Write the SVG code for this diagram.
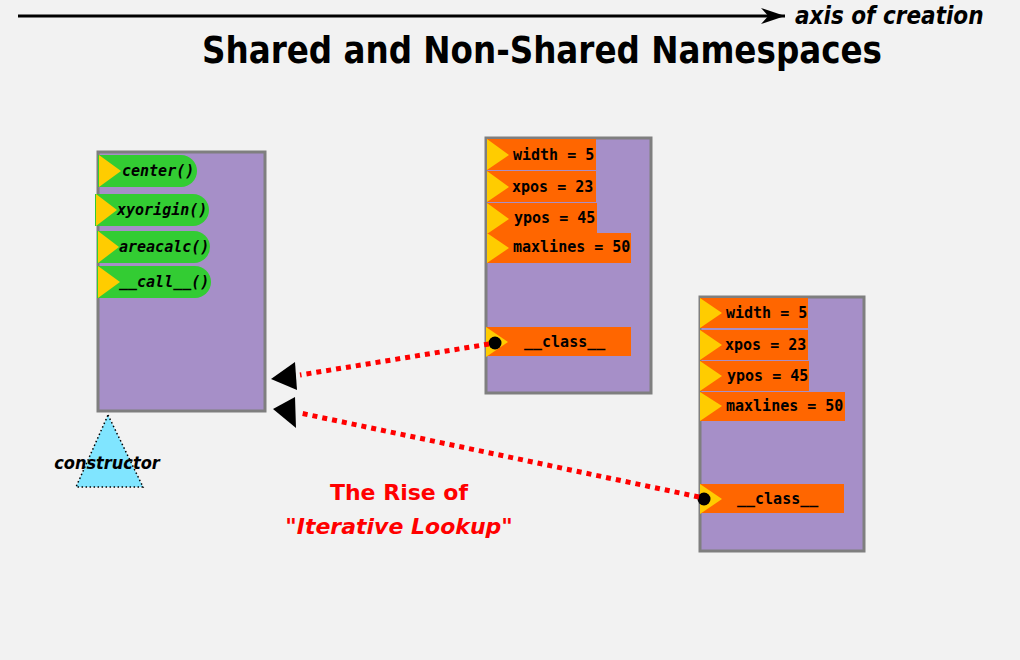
<svg xmlns="http://www.w3.org/2000/svg" width="1020" height="660" viewBox="0 0 1020 660">
<defs>
<style>
.box{fill:#a68fc8;stroke:#7f7f7f;stroke-width:3}
.meth{fill:#33cc33}
.attr{fill:#ff6600}
.tri{fill:#ffcc00}
.mt{font-family:"DejaVu Sans Mono","Liberation Mono",monospace;font-weight:bold;font-style:italic;font-size:15px;fill:#000}
.at{font-family:"DejaVu Sans Mono","Liberation Mono",monospace;font-weight:bold;font-size:15px;fill:#000}
.cond{font-family:"DejaVu Sans Condensed","DejaVu Sans",sans-serif;font-stretch:condensed;font-weight:bold}
.conn{fill:none;stroke:#ff0000;stroke-width:5;stroke-dasharray:5 5}
.red{font-family:"DejaVu Sans",sans-serif;font-weight:bold;font-size:22px;fill:#ff0000}
</style>
<marker id="ax" viewBox="0 0 10 10" refX="10" refY="5" markerWidth="24" markerHeight="16" markerUnits="userSpaceOnUse" orient="auto" preserveAspectRatio="none"><path d="M0,0 L10,5 L0,10 L3,5 Z" fill="#000"/></marker>
</defs>
<rect width="1020" height="660" fill="#f2f2f2"/>
<g id="axis">
<line x1="18" y1="16" x2="785" y2="16" stroke="#000" stroke-width="3" marker-end="url(#ax)"/>
<text x="795" y="24" class="cond" font-style="italic" font-size="24">axis of creation</text>
</g>
<g id="title"><text x="202" y="63" class="cond" font-size="38" textLength="680" lengthAdjust="spacingAndGlyphs">Shared and Non-Shared Namespaces</text></g>

<g id="class-node">
<rect class="box" x="98" y="152" width="167" height="259"/>
<path class="meth" d="M98,155 H181 A16,16 0 0 1 181,187 H98 Z"/>
<path class="tri" d="M99,155 L121,171 L99,187 Z"/>
<text class="mt" x="122" y="176">center()</text>
<path class="meth" d="M95,194 H193 A16,16 0 0 1 193,226 H95 Z"/>
<path class="tri" d="M96,194 L117,210 L96,226 Z"/>
<text class="mt" x="117" y="215">xyorigin()</text>
<path class="meth" d="M97,231 H194 A16,16 0 0 1 194,263 H97 Z"/>
<path class="tri" d="M98,231 L119,247 L98,263 Z"/>
<text class="mt" x="119" y="252">areacalc()</text>
<path class="meth" d="M97,266 H195 A16,16 0 0 1 195,298 H97 Z"/>
<path class="tri" d="M98,266 L120,282 L98,298 Z"/>
<text class="mt" x="119" y="287">__call__()</text>
</g>

<g id="constructor">
<path d="M108,415 L143,487 L76,487 Z" fill="#80e5ff" stroke="#000" stroke-width="1.5" stroke-dasharray="1.5 2.5"/>
<text x="107" y="469" class="cond" font-style="italic" font-size="18" text-anchor="middle">constructor</text>
</g>

<g id="instance1">
<rect class="box" x="486" y="138" width="165" height="255"/>
<rect class="attr" x="487" y="139" width="109" height="31"/>
<path class="tri" d="M487,139 L509,155 L487,170 Z"/>
<text class="at" x="513" y="160">width = 5</text>
<rect class="attr" x="487" y="171" width="109" height="31"/>
<path class="tri" d="M487,171 L509,187 L487,202 Z"/>
<text class="at" x="512" y="192">xpos = 23</text>
<rect class="attr" x="487" y="203" width="110" height="31"/>
<path class="tri" d="M487,203 L509,219 L487,234 Z"/>
<text class="at" x="514" y="223">ypos = 45</text>
<rect class="attr" x="487" y="233" width="144" height="30"/>
<path class="tri" d="M487,233 L509,248 L487,263 Z"/>
<text class="at" x="513" y="252">maxlines = 50</text>
<rect class="attr" x="486" y="327" width="145" height="29"/>
<path class="tri" d="M486,327 L508,342 L486,357 Z"/>
<circle cx="495" cy="343" r="6.5" fill="#000"/>
<text class="at" x="524" y="347">__class__</text>
</g>

<g id="instance2">
<rect class="box" x="700" y="297" width="164" height="254"/>
<rect class="attr" x="700" y="298" width="108" height="30"/>
<path class="tri" d="M700,298 L722,313 L700,328 Z"/>
<text class="at" x="726" y="318">width = 5</text>
<rect class="attr" x="700" y="330" width="108" height="30"/>
<path class="tri" d="M700,330 L722,345 L700,360 Z"/>
<text class="at" x="725" y="350">xpos = 23</text>
<rect class="attr" x="700" y="361" width="109" height="30"/>
<path class="tri" d="M700,361 L722,376 L700,391 Z"/>
<text class="at" x="727" y="381">ypos = 45</text>
<rect class="attr" x="700" y="392" width="145" height="29"/>
<path class="tri" d="M700,392 L722,406 L700,421 Z"/>
<text class="at" x="726" y="411">maxlines = 50</text>
<rect class="attr" x="700" y="484" width="144" height="29"/>
<path class="tri" d="M700,484 L722,499 L700,514 Z"/>
<circle cx="704" cy="499" r="6.5" fill="#000"/>
<text class="at" x="737" y="504">__class__</text>
</g>

<g id="connectors">
<path class="conn" d="M489,344 L300,375"/>
<path class="conn" d="M699,497 L300,413"/>
<path d="M271,379 L295,362 L297,390 Z" fill="#000"/>
<path d="M273,409 L295,397 L296,428 Z" fill="#000"/>
</g>

<g id="caption">
<text class="red" x="399" y="500" text-anchor="middle">The Rise of</text>
<text class="red" x="399" y="534" text-anchor="middle">"<tspan font-style="italic">Iterative Lookup</tspan>"</text>
</g>
</svg>
